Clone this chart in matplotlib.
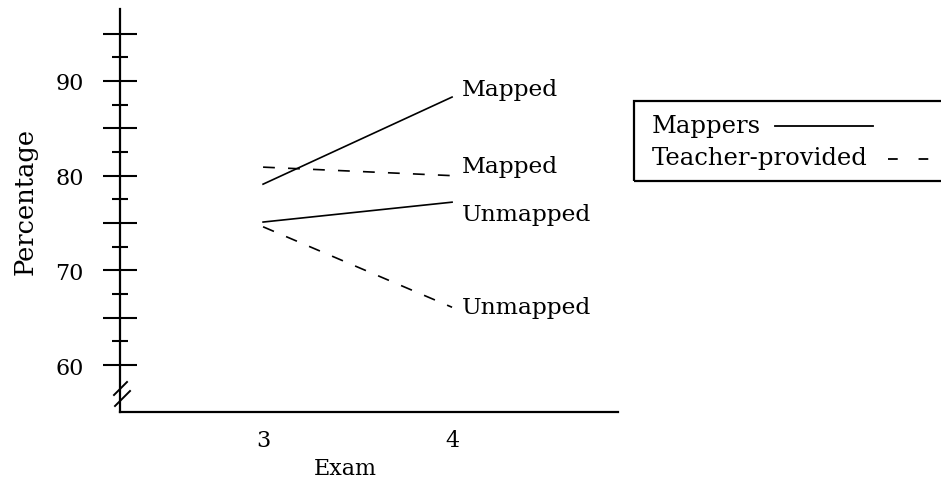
import numpy as np
import matplotlib
matplotlib.use("Agg")
import matplotlib.pyplot as plt
from matplotlib.patches import Rectangle
from matplotlib.lines import Line2D

# data
exams = [3, 4]
mappers_mapped = [79.1, 88.3]
mappers_unmapped = [75.1, 77.2]
teacher_mapped = [80.9, 80.0]
teacher_unmapped = [74.6, 66.1]
end_labels = ["Mapped", "Mapped", "Unmapped", "Unmapped"]
ytick_labels = ["60", "", "70", "", "80", "", "90", ""]

plt.rcParams['font.family'] = ['DejaVu Serif']
plt.rcParams['lines.scale_dashes'] = False
FS = 16
W, H = 941, 481

fig = plt.figure(figsize=(W / 100, H / 100), dpi=100)
ax = fig.add_axes([120 / W, 1 - 413 / H, 498 / W, 403 / H])

dash = (8.5, 9.5)
ax.plot(exams, mappers_mapped, color="black", lw=1.2)
ax.plot(exams, mappers_unmapped, color="black", lw=1.2)
ax.plot(exams, teacher_mapped, color="black", lw=1.2, dashes=dash)
ax.plot(exams, teacher_unmapped, color="black", lw=1.2, dashes=dash)

# labels at the line ends
ends = [mappers_mapped[1] + 0.9, teacher_mapped[1] + 1.0,
        mappers_unmapped[1] - 1.2, teacher_unmapped[1]]
for lab, yv in zip(end_labels, ends):
    ax.text(4.05, yv, lab, fontsize=16.8, va="center", ha="left")

ax.set_xlim(2.243, 4.878)
ax.set_ylim(55.04, 97.6)
ax.set_xticks(exams)
ax.set_yticks(np.arange(60, 96, 5))
ax.set_yticks(np.arange(62.5, 95, 5), minor=True)
ax.set_yticklabels(ytick_labels)

for s in ["top", "right"]:
    ax.spines[s].set_visible(False)
for s in ["left", "bottom"]:
    ax.spines[s].set_linewidth(1.6)

ax.tick_params(axis="y", which="major", direction="inout", length=24,
               width=1.5, pad=14, labelsize=FS)
ax.tick_params(axis="y", which="minor", direction="inout", length=12,
               width=1.5)
ax.tick_params(axis="x", length=0, pad=12, labelsize=FS)

ax.set_ylabel("Percentage", fontsize=18.5)
ax.yaxis.set_label_coords(-0.165, 0.524)
ax.set_xlabel("Exam", fontsize=FS)
ax.xaxis.set_label_coords(0.452, -0.112)


def fx(px):
    return px / W


def fy(py):
    return 1 - py / H


# axis break marks
for (x0, y0, x1, y1) in [(114, 396, 127, 383), (115, 407, 130, 392)]:
    fig.add_artist(Line2D([fx(x0), fx(x1)], [fy(y0), fy(y1)],
                          color="black", lw=1.4, transform=fig.transFigure))

# hand-drawn legend box, running off the right edge
fig.add_artist(Rectangle((fx(634), fy(182)), fx(960) - fx(634), fy(102) - fy(182),
                         fill=False, lw=1.6, edgecolor="black",
                         transform=fig.transFigure, clip_on=False))
fig.text(fx(652), fy(127), "Mappers", fontsize=17.5, va="center", ha="left")
fig.text(fx(652), fy(158), "Teacher-provided", fontsize=17.5, va="center", ha="left")
fig.add_artist(Line2D([fx(775), fx(873)], [fy(127), fy(127)], color="black",
                      lw=1.3, transform=fig.transFigure))
fig.add_artist(Line2D([fx(888), fx(960)], [fy(160), fy(160)], color="black",
                      lw=1.3, dashes=(7, 15), transform=fig.transFigure))

fig.savefig("out.png", dpi=100)
